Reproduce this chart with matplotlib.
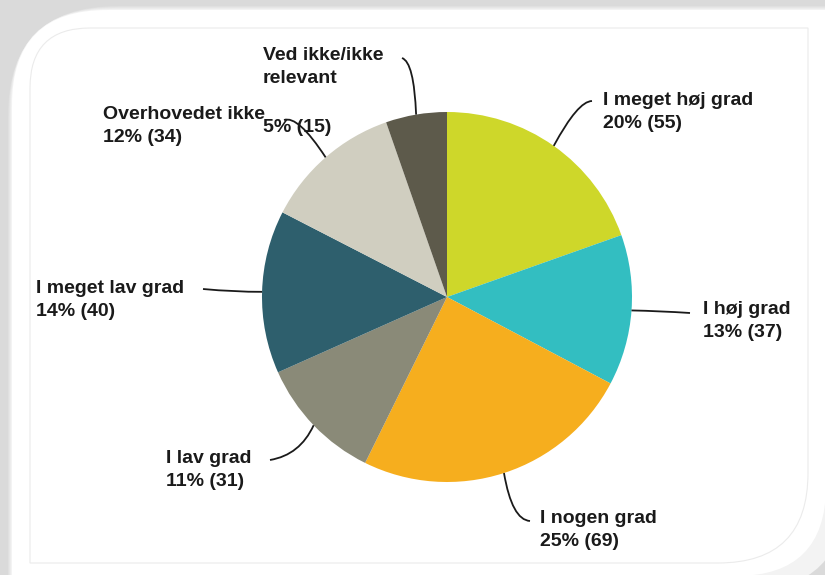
import numpy as np
import matplotlib.pyplot as plt
from matplotlib.path import Path
from matplotlib.patches import PathPatch

# data
labels = ["I meget høj grad", "I høj grad", "I nogen grad", "I lav grad",
          "I meget lav grad", "Overhovedet ikke", "Ved ikke/ikke relevant"]
counts = [55, 37, 69, 31, 40, 34, 15]
colors = ["#CED72A", "#33BEC1", "#F6AE1E", "#8A8A78", "#2E5F6D", "#D0CEC0", "#5D5A4B"]

# label layout (pixel coords): text x, text y, line end, bezier control
text_pos = [(603, 112), (703, 321), (540, 530), (166, 470), (36, 300), (103, 126), (263, 67)]
line_end = [(592, 101), (690, 313), (530, 521), (270, 460), (203, 289), (284, 120), (402, 58)]
line_ctrl = [(578, 101), (660, 311), (512, 520), (300, 455), (235, 292), (298, 115), (414, 62)]

W, H = 825, 575
fig = plt.figure(figsize=(W / 100, H / 100), dpi=100)
fig.patch.set_facecolor("#dadada")
ax = fig.add_axes([0, 0, 1, 1])


def card(l, t, r, b, rtl, rbr):
    verts = [(l, b), (l, t + rtl), (l, t), (l + rtl, t), (r, t), (r, b - rbr),
             (r, b), (r - rbr, b), (l, b)]
    codes = [Path.MOVETO, Path.LINETO, Path.CURVE3, Path.CURVE3, Path.LINETO,
             Path.LINETO, Path.CURVE3, Path.CURVE3, Path.CLOSEPOLY]
    return Path(verts, codes)


# soft shadow edge
for i, g in enumerate(["#e0e0e0", "#e6e6e6", "#ececec", "#f3f3f3"]):
    ax.add_patch(PathPatch(card(12 - 4 + i, 10 - 4 + i, 845, 590, 110 - i * 4, 110 - i * 4),
                           facecolor=g, edgecolor="none", zorder=0))
ax.add_patch(PathPatch(card(12, 10, 826, 576, 95, 90), facecolor="white", edgecolor="none", zorder=1))
ax.add_patch(PathPatch(card(30, 28, 808, 563, 60, 90), facecolor="none", edgecolor="#ebebeb",
                       lw=0.8, zorder=1))

cx, cy, R = 447, 297, 185
wedges, _ = ax.pie(counts, colors=colors, startangle=-90, counterclock=True,
                   center=(cx, cy), radius=R, wedgeprops=dict(linewidth=0, zorder=2))

ax.set_xlim(0, W)
ax.set_ylim(H, 0)
ax.set_aspect("auto")
ax.axis("off")

total = sum(counts)
font = dict(family=["Liberation Sans", "DejaVu Sans"], fontweight="bold", fontsize=14,
            color="#1a1a1a", linespacing=1.5)

for i, w in enumerate(wedges):
    mid = np.deg2rad((w.theta1 + w.theta2) / 2)
    sx, sy = cx + R * np.cos(mid), cy + R * np.sin(mid)
    path = Path([(sx, sy), line_ctrl[i], line_end[i]], [Path.MOVETO, Path.CURVE3, Path.CURVE3])
    ax.add_patch(PathPatch(path, facecolor="none", edgecolor="#1a1a1a", lw=1.3, zorder=3))
    pct = f"{round(counts[i] / total * 100)}% ({counts[i]})"
    tx, ty = text_pos[i]
    if i == 6:
        ax.text(tx, ty, "Ved ikke/ikke\nrelevant", ha="left", va="center", zorder=4, **font)
        ax.text(tx, 128, pct, ha="left", va="center", zorder=4, **font)
    else:
        ax.text(tx, ty, labels[i] + "\n" + pct, ha="left", va="center", zorder=4, **font)

fig.savefig("out.png", dpi=100, facecolor=fig.get_facecolor())
